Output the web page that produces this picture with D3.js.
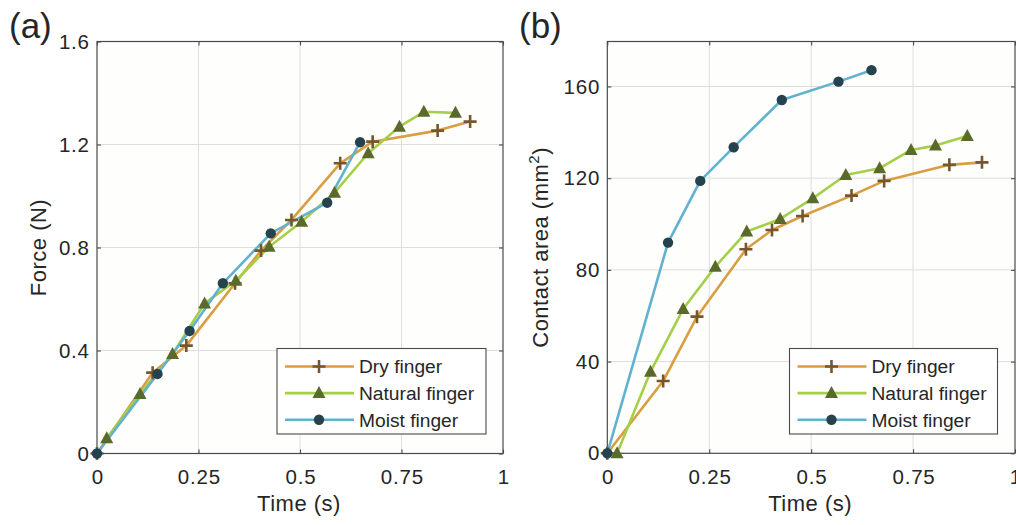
<!DOCTYPE html>
<html><head><meta charset="utf-8">
<script src="https://cdn.jsdelivr.net/npm/d3@7"></script>
<style>body{margin:0;background:#fff}svg{display:block}text{font-family:"Liberation Sans",Arial,sans-serif;fill:#262626}</style>
</head><body><svg id="c" width="1016" height="525"></svg>
<script>
const seriesNames = ["Dry finger", "Natural finger", "Moist finger"];
const dryTime = [0, 0.137, 0.220, 0.340, 0.404, 0.479, 0.599, 0.679, 0.839, 0.919];
const naturalTime = [0.024, 0.106, 0.186, 0.265, 0.342, 0.424, 0.504, 0.585, 0.668, 0.745, 0.805, 0.883];
const moistTime = [0, 0.149, 0.228, 0.310, 0.428, 0.567, 0.648];
const dryForce = [0, 0.314, 0.419, 0.661, 0.788, 0.907, 1.127, 1.211, 1.254, 1.289];
const naturalForce = [0.059, 0.231, 0.386, 0.583, 0.671, 0.803, 0.900, 1.013, 1.166, 1.269, 1.327, 1.323];
const moistForce = [0, 0.309, 0.476, 0.661, 0.855, 0.974, 1.209];
const dryArea = [0, 31.5, 59.6, 89.0, 97.4, 103.5, 112.4, 118.8, 125.8, 126.9];
const naturalArea = [0, 35.6, 62.9, 81.4, 96.7, 102.2, 111.2, 121.4, 124.3, 132.3, 134.2, 138.4];
const moistArea = [0, 91.9, 118.8, 133.5, 154.1, 162.1, 167.1];
const xTicks = [0, 0.25, 0.5, 0.75, 1];
const xTickLabels = ["0", "0.25", "0.5", "0.75", "1"];
const forceTicks = [0, 0.4, 0.8, 1.2, 1.6];
const forceTickLabels = ["0", "0.4", "0.8", "1.2", "1.6"];
const areaTicks = [0, 40, 80, 120, 160];
const areaTickLabels = ["0", "40", "80", "120", "160"];

const lineColors = ["#d99e42", "#a6cf48", "#62b2cf"];
const markerColors = ["#77562b", "#5a6a2a", "#24434f"];
const markers = ["plus", "triangle", "circle"];
const TICK_FS = 20.5, TICK_LS = 0.8;

const svg = d3.select("#c");

function drawMarker(g, type, x, y, color) {
  if (type === "plus") {
    g.append("path").attr("d", `M${x-6.5},${y}H${x+6.5}M${x},${y-6.5}V${y+6.5}`)
      .attr("stroke", color).attr("stroke-width", 2.6).attr("fill", "none");
  } else if (type === "triangle") {
    g.append("path").attr("d", `M${x},${y-7}L${x+6.5},${y+5}L${x-6.5},${y+5}Z`).attr("fill", color);
  } else {
    g.append("circle").attr("cx", x).attr("cy", y).attr("r", 5.2).attr("fill", color);
  }
}

function panel(opt) {
  const {left, right, top, bottom, yMax, yTicks, yTickLabels, data, ylabel, letter, letterX, legendBox, ylabelX} = opt;
  const x = d3.scaleLinear().domain([0, 1]).range([left, right]);
  const y = d3.scaleLinear().domain([0, yMax]).range([bottom, top]);
  const g = svg.append("g");
  g.append("rect").attr("x", left).attr("y", top).attr("width", right-left).attr("height", bottom-top).attr("fill", "#fefefd");
  // grid
  g.append("g").selectAll("line").data(xTicks.slice(1, -1)).join("line")
    .attr("x1", d => x(d)).attr("x2", d => x(d)).attr("y1", top).attr("y2", bottom)
    .attr("stroke", "#dedede").attr("stroke-width", 1);
  g.append("g").selectAll("line").data(yTicks.filter(d => d > 0 && d < yMax)).join("line")
    .attr("y1", d => y(d)).attr("y2", d => y(d)).attr("x1", left).attr("x2", right)
    .attr("stroke", "#dedede").attr("stroke-width", 1);
  // axes with inward ticks
  const ax = d3.axisBottom(x).tickValues(xTicks).tickFormat((d, i) => xTickLabels[i]).tickSize(-4).tickPadding(16);
  const axT = d3.axisTop(x).tickValues(xTicks).tickFormat("").tickSize(-4);
  const ay = d3.axisLeft(y).tickValues(yTicks).tickFormat((d, i) => yTickLabels[i]).tickSize(-4).tickPadding(8);
  const ayR = d3.axisRight(y).tickValues(yTicks).tickFormat("").tickSize(-4);
  const styleAxis = (sel, dx) => {
    sel.selectAll("path,line").attr("stroke", "#4a4a4a").attr("stroke-width", 1.1);
    sel.select(".domain").remove();
    sel.selectAll("text").attr("font-size", TICK_FS).attr("fill", "#333")
      .attr("letter-spacing", TICK_LS).attr("dx", dx)
      .style("font-family", "Liberation Sans, Arial, sans-serif");
  };
  g.append("g").attr("transform", `translate(0,${bottom})`).call(ax).call(styleAxis, TICK_LS / 2);
  g.append("g").attr("transform", `translate(0,${top})`).call(axT).call(styleAxis, 0);
  g.append("g").attr("transform", `translate(${left},0)`).call(ay).call(styleAxis, TICK_LS);
  g.append("g").attr("transform", `translate(${right},0)`).call(ayR).call(styleAxis, 0);
  g.append("rect").attr("x", left).attr("y", top).attr("width", right-left).attr("height", bottom-top)
    .attr("fill", "none").attr("stroke", "#4a4a4a").attr("stroke-width", 1.2);
  // series
  const line = d3.line().x(d => x(d[0])).y(d => y(d[1]));
  data.forEach((s, i) => {
    const pts = s.t.map((t, k) => [t, s.v[k]]);
    g.append("path").datum(pts).attr("d", line).attr("fill", "none")
      .attr("stroke", lineColors[i]).attr("stroke-width", 2.6).attr("stroke-linejoin", "round");
  });
  data.forEach((s, i) => {
    s.t.forEach((t, k) => drawMarker(g, markers[i], x(t), y(s.v[k]), markerColors[i]));
  });
  // labels
  g.append("text").attr("x", (left+right)/2 - 1).attr("y", 511).attr("text-anchor", "middle")
    .attr("font-size", 22).attr("letter-spacing", 0.5).attr("fill", "#333").text("Time (s)");
  const yl = g.append("text").attr("transform", `translate(${ylabelX},${(top+bottom)/2}) rotate(-90)`)
    .attr("text-anchor", "middle").attr("font-size", 22).attr("letter-spacing", 0.5).attr("fill", "#333");
  ylabel(yl);
  g.append("text").attr("x", letterX).attr("y", 38).attr("font-size", 35).attr("fill", "#1a1a1a").text(letter);
  // legend
  const [lx, ly, lw, lh] = legendBox;
  const lg = g.append("g");
  lg.append("rect").attr("x", lx).attr("y", ly).attr("width", lw).attr("height", lh)
    .attr("fill", "#fff").attr("stroke", "#4a4a4a").attr("stroke-width", 1.1);
  seriesNames.forEach((name, i) => {
    const yy = ly + 18 + i * 26.6;
    lg.append("line").attr("x1", lx + 8).attr("x2", lx + 77).attr("y1", yy).attr("y2", yy)
      .attr("stroke", lineColors[i]).attr("stroke-width", 2.6);
    drawMarker(lg, markers[i], lx + 42, yy, markerColors[i]);
    lg.append("text").attr("x", lx + 82).attr("y", yy + 6.8).attr("font-size", 19.2).attr("fill", "#262626").text(name);
  });
}

panel({
  left: 97, right: 503, top: 41.5, bottom: 453.5, yMax: 1.6,
  yTicks: forceTicks, yTickLabels: forceTickLabels,
  data: [{t: dryTime, v: dryForce}, {t: naturalTime, v: naturalForce}, {t: moistTime, v: moistForce}],
  ylabel: t => t.text("Force (N)"), ylabelX: 46,
  letter: "(a)", letterX: 9, legendBox: [277, 348.5, 209, 85.5]
});
panel({
  left: 607.3, right: 1015, top: 41.5, bottom: 453.3, yMax: 179.6,
  yTicks: areaTicks, yTickLabels: areaTickLabels,
  data: [{t: dryTime, v: dryArea}, {t: naturalTime, v: naturalArea}, {t: moistTime, v: moistArea}],
  ylabel: t => { t.append("tspan").text("Contact area (mm"); t.append("tspan").attr("font-size", 15).attr("dy", -9).text("2"); t.append("tspan").attr("dy", 9).text(")"); },
  ylabelX: 548,
  letter: "(b)", letterX: 519, legendBox: [789.5, 348.5, 208, 85.5]
});
</script></body></html>
